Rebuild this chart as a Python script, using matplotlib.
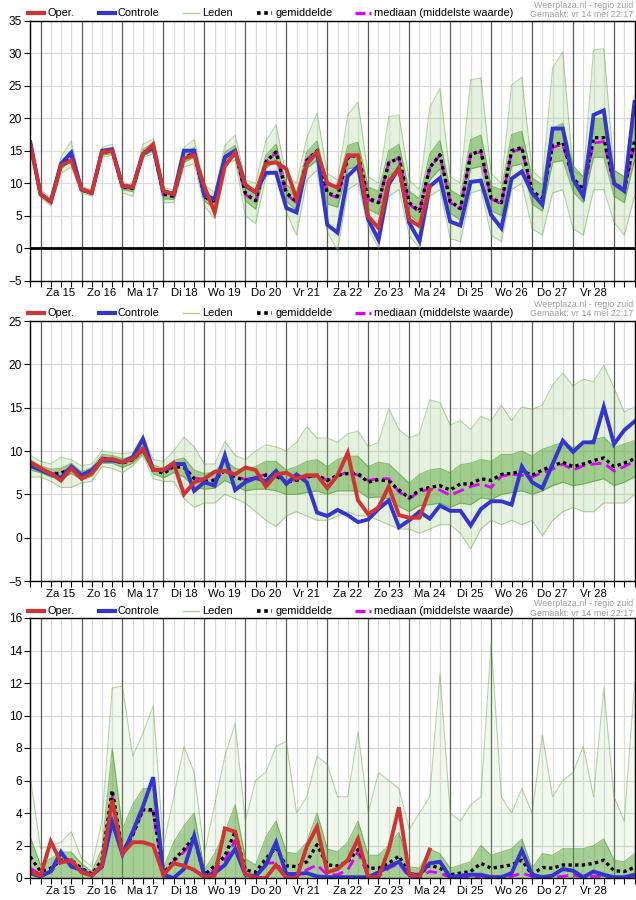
import numpy as np
import matplotlib
matplotlib.use("Agg")
import matplotlib.pyplot as plt
from matplotlib.lines import Line2D

plt.rcParams['font.family'] = ['Liberation Sans', 'DejaVu Sans']

# time axis: every 6 hours, from vr 14 18:00 (hour -6) to za 29 12:00
hours = np.arange(-6, 349, 6)
day_labels = ['Za 15', 'Zo 16', 'Ma 17', 'Di 18', 'Wo 19', 'Do 20', 'Vr 21',
              'Za 22', 'Zo 23', 'Ma 24', 'Di 25', 'Wo 26', 'Do 27', 'Vr 28']

# ---- panel 1 (temperatuur) ----
oper1 = [16.0, 8.3, 7.1, 12.7, 13.5, 9.1, 8.5, 14.8, 15.0, 9.6, 9.4, 14.4, 16.0, 8.8, 8.3,
         13.8, 14.3, 9.5, 5.5, 12.6, 14.7, 9.8, 8.6, 13.0, 13.2, 12.2, 7.6, 13.0, 14.8, 10.0,
         9.3, 14.3, 14.3, 4.9, 3.1, 10.3, 12.3, 4.4, 3.4, 9.5]
ctrl1 = [16.3, 8.3, 7.2, 13.0, 14.7, 9.0, 8.5, 15.0, 15.2, 9.6, 9.4, 14.5, 15.5, 8.8, 8.3,
         15.0, 15.0, 8.1, 7.6, 14.0, 15.0, 9.6, 8.6, 11.6, 11.6, 6.2, 5.5, 13.0, 14.8, 3.6,
         2.4, 11.1, 12.6, 4.4, 1.3, 9.8, 12.4, 3.9, 1.1, 9.5, 10.8, 4.1, 3.5, 10.2, 10.4,
         5.1, 3.1, 10.7, 11.8, 8.5, 6.7, 18.4, 18.4, 10.6, 8.0, 20.5, 21.2, 10.0, 8.8, 22.5]
mean1 = [16.0, 8.3, 7.2, 12.8, 14.3, 9.0, 8.5, 14.7, 15.0, 9.4, 9.2, 14.6, 15.6, 8.3, 8.0,
         13.8, 14.7, 8.0, 6.8, 14.0, 15.0, 8.5, 7.3, 13.3, 14.8, 8.5, 7.2, 13.5, 15.0, 8.5,
         8.0, 13.9, 14.4, 7.7, 7.0, 13.1, 13.9, 7.0, 5.7, 12.4, 14.4, 7.2, 6.1, 14.4, 15.0,
         7.7, 7.0, 15.0, 15.5, 8.8, 7.7, 15.8, 16.3, 10.8, 9.0, 17.0, 17.0, 10.0, 9.0, 16.5]
med1 = [16.0, 8.3, 7.2, 12.8, 14.3, 9.0, 8.5, 14.7, 15.0, 9.4, 9.2, 14.6, 15.6, 8.2, 7.9,
        13.8, 14.8, 8.0, 6.7, 14.1, 15.0, 8.3, 7.1, 13.3, 14.7, 8.3, 7.0, 13.6, 15.0, 8.3,
        7.8, 14.0, 14.3, 7.5, 6.8, 13.2, 13.9, 6.8, 5.5, 12.3, 14.3, 7.0, 6.0, 14.5, 14.8,
        7.6, 6.8, 14.8, 15.3, 8.5, 7.5, 15.5, 16.0, 10.5, 8.8, 16.2, 16.4, 9.8, 8.7, 16.0]
lo1 = [15.5, 7.8, 6.5, 11.5, 12.5, 8.5, 8.0, 14.0, 14.3, 8.5, 8.0, 14.0, 14.5, 7.0, 7.0,
       12.5, 13.0, 6.5, 4.5, 13.0, 13.5, 5.0, 3.8, 11.0, 12.0, 5.5, 2.0, 10.5, 12.0, 2.5,
       -0.4, 9.0, 10.0, 3.0, 0.0, 8.0, 9.0, 2.0, 0.0, 8.0, 9.0, 1.5, 1.0, 8.5, 9.0,
       2.0, 1.0, 9.0, 10.0, 3.0, 2.0, 8.5, 9.0, 3.0, 2.0, 9.0, 9.0, 4.0, 2.0, 8.0]
hi1 = [16.5, 9.0, 7.8, 14.0, 16.5, 9.5, 9.0, 15.5, 16.0, 10.0, 9.8, 16.0, 16.8, 9.3, 9.0,
       15.5, 16.7, 9.8, 8.5, 15.8, 17.4, 10.5, 10.0, 16.5, 19.0, 11.0, 10.0, 17.0, 20.8, 11.5,
       10.5, 20.5, 22.5, 11.0, 10.0, 20.2, 20.5, 10.5, 9.0, 21.6, 24.6, 11.0, 10.0, 25.9, 26.2,
       11.5, 10.0, 25.1, 26.3, 12.0, 10.5, 27.7, 30.2, 12.0, 11.0, 30.5, 30.7, 12.0, 11.0, 23.5]
clo1 = [15.8, 8.0, 6.9, 12.2, 13.5, 8.8, 8.2, 14.3, 14.6, 9.0, 8.7, 14.2, 15.0, 7.6, 7.5,
        13.2, 14.0, 7.3, 6.0, 13.5, 14.2, 7.3, 6.0, 12.3, 13.5, 7.2, 5.8, 12.3, 13.5, 6.8,
        6.3, 12.2, 12.5, 6.0, 5.2, 11.2, 12.0, 5.2, 3.8, 10.5, 12.2, 5.4, 4.3, 12.2, 12.6,
        5.8, 5.0, 12.6, 13.0, 6.8, 5.7, 13.2, 13.5, 8.7, 7.0, 14.0, 14.0, 8.0, 7.0, 13.5]
chi1 = [16.3, 8.7, 7.5, 13.3, 15.0, 9.3, 8.8, 15.1, 15.5, 9.8, 9.5, 15.2, 16.2, 8.9, 8.6,
        14.6, 15.5, 8.8, 7.6, 14.8, 15.8, 9.5, 8.5, 14.3, 16.0, 9.8, 8.6, 14.8, 16.5, 10.0,
        9.6, 15.8, 16.3, 9.4, 8.8, 15.0, 16.0, 8.8, 7.6, 14.5, 16.6, 9.0, 8.0, 16.7, 17.4,
        9.6, 9.0, 17.5, 18.0, 10.8, 9.8, 18.5, 19.2, 12.7, 11.0, 20.0, 20.0, 12.0, 11.0, 19.5]

# ---- panel 2 ----
oper2 = [8.7, 8.0, 7.4, 6.6, 8.0, 6.8, 7.4, 9.0, 9.1, 8.7, 9.1, 10.3, 7.8, 7.8, 8.6,
         5.0, 6.4, 6.8, 7.6, 7.7, 7.3, 8.1, 7.8, 5.9, 7.3, 7.5, 6.8, 7.2, 7.2, 5.7,
         7.2, 9.8, 4.3, 2.7, 3.5, 5.9, 2.6, 2.3, 2.3, 5.5]
ctrl2 = [8.3, 7.8, 7.3, 6.9, 8.2, 7.2, 7.8, 8.9, 8.9, 8.7, 9.3, 11.4, 7.8, 7.8, 8.5,
         8.5, 5.4, 6.4, 6.0, 9.5, 5.5, 6.4, 6.9, 6.5, 7.7, 6.2, 7.3, 6.4, 2.9, 2.5,
         3.2, 2.6, 1.8, 2.1, 3.3, 4.3, 1.2, 2.0, 3.0, 2.2, 3.7, 3.1, 3.1, 1.4, 3.3,
         4.2, 4.2, 3.8, 8.2, 6.4, 5.7, 8.5, 11.2, 9.9, 11.0, 11.0, 15.1, 10.8, 12.4, 13.4]
mean2 = [8.4, 7.9, 7.4, 7.4, 8.0, 7.1, 7.6, 9.1, 9.0, 8.6, 9.0, 10.2, 7.9, 7.4, 8.2,
         8.1, 6.8, 6.5, 6.6, 7.8, 7.0, 6.6, 6.9, 7.2, 7.1, 6.4, 6.6, 7.0, 7.2, 6.6,
         7.2, 7.4, 7.4, 6.4, 6.7, 6.5, 5.5, 4.6, 5.5, 5.8, 6.0, 5.5, 6.2, 6.2, 6.8,
         6.6, 7.3, 7.4, 7.7, 7.2, 7.8, 8.3, 8.7, 8.2, 8.5, 8.9, 9.2, 8.2, 8.6, 9.1]
med2 = [8.4, 7.9, 7.4, 7.5, 8.0, 7.2, 7.6, 9.2, 9.0, 8.7, 9.0, 10.1, 8.0, 7.5, 8.2,
        8.2, 6.9, 6.7, 6.7, 7.7, 7.1, 6.7, 7.0, 7.3, 7.2, 6.5, 6.7, 7.0, 7.1, 6.6,
        7.1, 7.6, 7.2, 6.6, 6.8, 6.8, 5.3, 4.5, 5.3, 5.6, 5.5, 4.9, 5.4, 5.9, 6.2,
        5.8, 7.1, 7.3, 7.2, 7.0, 7.5, 7.9, 8.5, 7.8, 8.3, 8.5, 8.6, 7.7, 8.2, 8.8]
lo2 = [7.0, 7.0, 6.5, 5.8, 5.8, 6.3, 6.5, 8.2, 8.0, 7.5, 8.3, 9.5, 6.8, 6.5, 6.5,
       4.5, 3.5, 4.0, 4.0, 5.0, 4.5, 4.0, 3.0, 2.0, 1.3, 2.5, 3.0, 2.5, 2.0, 2.0,
       2.5, 3.0, 2.5, 2.5, 2.0, 1.5, 1.0, 1.0, 0.5, 1.0, 1.5, 1.5, 0.5, -1.3, 1.0,
       2.0, 1.5, 2.0, 1.5, 2.0, 0.2, 2.0, 3.0, 3.5, 3.0, 3.0, 4.0, 4.0, 4.0, 5.0]
hi2 = [9.5, 8.8, 8.5, 9.3, 9.0, 8.3, 8.5, 10.0, 9.8, 9.7, 9.8, 11.8, 9.0, 8.8, 10.0,
       11.6, 10.5, 8.5, 8.5, 11.1, 9.5, 9.0, 10.0, 10.7, 10.5, 10.0, 11.0, 12.8, 11.5, 11.5,
       11.0, 12.0, 12.3, 10.5, 11.0, 14.9, 12.5, 11.5, 12.0, 15.9, 15.6, 13.0, 13.5, 12.5, 14.0,
       13.5, 15.3, 13.5, 15.1, 14.8, 15.3, 17.6, 19.0, 17.5, 18.3, 18.0, 19.9, 17.3, 14.5, 15.1]
clo2 = [7.8, 7.5, 7.0, 6.8, 7.4, 6.7, 7.1, 8.6, 8.6, 8.1, 8.6, 9.7, 7.4, 6.9, 7.5,
        7.0, 5.8, 5.6, 5.7, 6.6, 6.0, 5.4, 5.6, 5.6, 5.4, 5.0, 5.0, 5.2, 5.4, 5.0,
        5.4, 5.4, 5.4, 4.6, 4.7, 4.5, 3.6, 3.0, 3.7, 3.8, 4.0, 3.5, 4.0, 3.8, 4.6,
        4.4, 5.0, 5.2, 5.4, 5.0, 5.4, 6.0, 6.4, 6.0, 6.2, 6.5, 6.8, 6.0, 6.4, 7.0]
chi2 = [9.0, 8.3, 7.9, 8.0, 8.6, 7.6, 8.1, 9.6, 9.5, 9.1, 9.4, 10.7, 8.4, 8.0, 8.9,
        9.2, 7.8, 7.4, 7.6, 9.0, 8.0, 7.8, 8.2, 8.8, 8.8, 7.8, 8.2, 8.8, 9.0, 8.2,
        9.0, 9.4, 9.4, 8.2, 8.7, 8.5, 7.4, 6.3, 7.3, 7.8, 8.0, 7.5, 8.4, 8.6, 9.0,
        8.8, 9.6, 9.6, 10.0, 9.4, 10.2, 10.6, 11.0, 10.4, 10.8, 11.3, 11.6, 10.4, 10.8, 11.2]

# ---- panel 3 (neerslag) ----
oper3 = [0.4, 0.15, 2.25, 0.95, 1.1, 0.35, 0.15, 0.8, 4.8, 1.5, 2.2, 2.2, 2.0, 0.2, 0.9,
         0.75, 0.5, 0.05, 0.15, 3.05, 2.85, 0.25, 0.0, 0.0, 0.8, 0.0, 0.0, 1.95, 3.15, 0.35,
         0.55, 1.1, 2.4, 0.05, 0.05, 1.75, 4.35, 0.25, 0.05, 1.75]
ctrl3 = [0.3, 0.1, 0.4, 1.6, 0.7, 0.5, 0.15, 0.7, 3.45, 1.45, 2.85, 4.4, 6.2, 0.2, 0.0,
         0.55, 2.6, 0.1, 0.3, 0.8, 1.8, 0.2, 0.1, 0.8, 2.2, 0.25, 0.25, 0.3, 0.1, 0.05,
         0.05, 0.05, 0.05, 0.05, 0.35, 0.7, 1.0, 0.2, 0.2, 0.9, 1.0, 0.05, 0.15, 0.2, 0.2,
         0.05, 0.05, 0.3, 1.7, 0.2, 0.05, 0.15, 0.55, 0.45, 0.05, 0.4, 0.2, 0.05, 0.05, 0.2]
mean3 = [1.3, 0.4, 0.6, 1.1, 1.1, 0.6, 0.25, 1.1, 5.4, 1.6, 2.65, 4.2, 4.2, 0.25, 1.1,
         1.75, 2.55, 0.2, 0.75, 1.35, 2.85, 0.5, 0.35, 1.2, 1.85, 0.75, 0.7, 1.0, 2.05, 0.8,
         0.75, 1.0, 1.75, 0.6, 0.6, 0.9, 1.35, 0.25, 0.2, 0.8, 0.6, 0.2, 0.3, 0.4, 0.9,
         0.6, 0.7, 0.8, 1.1, 0.2, 0.65, 0.6, 0.8, 0.8, 0.8, 0.9, 1.1, 0.45, 0.4, 0.65]
med3 = [0.6, 0.2, 0.4, 1.0, 1.0, 0.5, 0.15, 0.9, 5.0, 1.5, 2.6, 4.2, 4.1, 0.1, 1.0,
        1.6, 2.4, 0.1, 0.5, 1.1, 2.3, 0.2, 0.1, 0.9, 0.95, 0.1, 0.1, 0.5, 0.8, 0.2,
        0.2, 0.5, 1.6, 0.1, 0.1, 0.6, 0.9, 0.05, 0.05, 0.4, 0.3, 0.05, 0.05, 0.05, 0.1,
        0.1, 0.05, 0.1, 0.3, 0.1, 0.05, 0.05, 0.1, 0.2, 0.05, 0.1, 0.15, 0.05, 0.05, 0.1]
hi3 = [6.2, 1.8, 2.0, 2.2, 2.85, 1.2, 0.7, 3.5, 11.7, 11.8, 7.5, 8.9, 10.6, 2.0, 5.0,
       8.1, 6.5, 1.5, 4.5, 7.5, 9.5, 3.5, 6.0, 6.5, 8.1, 8.4, 4.0, 5.0, 7.5, 7.0,
       5.0, 5.0, 9.0, 4.0, 6.5, 6.0, 5.5, 3.0, 4.0, 5.0, 12.6, 4.0, 3.5, 4.5, 5.0,
       14.5, 5.0, 4.0, 5.5, 4.0, 8.8, 5.0, 6.0, 6.5, 8.1, 5.0, 11.7, 5.0, 3.5, 12.0]
lo3 = [0.0] * 60
clo3 = [0.0] * 60
chi3 = [2.5, 0.8, 1.2, 1.6, 1.6, 0.9, 0.4, 1.8, 8.0, 3.0, 4.5, 5.5, 5.5, 0.6, 2.2,
        3.2, 4.0, 0.5, 1.5, 2.8, 4.5, 1.2, 0.8, 2.5, 3.5, 1.6, 1.5, 2.2, 4.0, 1.8,
        1.6, 2.2, 3.5, 1.4, 1.4, 2.0, 2.8, 0.7, 0.6, 1.8, 1.5, 0.6, 0.8, 1.0, 2.0,
        1.4, 1.6, 1.8, 2.4, 0.6, 1.5, 1.4, 1.8, 1.8, 1.8, 2.0, 2.4, 1.1, 1.0, 1.5]

RED = '#d13333'
BLUE = '#3434d0'
GREEN = '#4c9e2a'
GREEN_LT = '#a9d496'
MAGENTA = '#dd00ff'

W, H = 636, 900
fig = plt.figure(figsize=(W / 100, H / 100), dpi=100)


def fx(x):
    return x / W


def fy(y):
    return 1 - y / H


def legend_row(y, y_src):
    items = [
        (28, 44, dict(color=RED, lw=3.0), 'Oper.', 47),
        (99, 115, dict(color=BLUE, lw=3.0), 'Controle', 118),
        (183, 199, dict(color=GREEN_LT, lw=1.0), 'Leden', 202),
        (257, 272, dict(color='black', lw=2.6, ls=(0, (1, 1))), 'gemiddelde', 276),
        (355, 371, dict(color=MAGENTA, lw=2.4, ls=(0, (3, 1.2, 0.6, 10))), 'mediaan (middelste waarde)', 374),
    ]
    for x0, x1, st, txt, tx in items:
        fig.add_artist(Line2D([fx(x0), fx(x1)], [fy(y), fy(y)], transform=fig.transFigure, **st))
        fig.text(fx(tx), fy(y), txt, fontsize=7.9, va='center', ha='left')
    fig.text(fx(633), fy(y_src), 'Weerplaza.nl - regio zuid', fontsize=6.4, color='#a0a0a0',
             ha='right', va='center')
    fig.text(fx(633), fy(y_src + 9.5), 'Gemaakt: vr 14 mei 22:17', fontsize=6.4, color='#a0a0a0',
             ha='right', va='center')


def make_panel(top, bottom, ylim, ystep, zero_line, ens, oper, ctrl, mean, med, outer_alpha):
    ax = fig.add_axes([fx(30.3), fy(bottom), fx(634.5) - fx(30.3), (bottom - top) / H])
    ax.set_xlim(-6, 348)
    ax.set_ylim(*ylim)
    ax.set_yticks(np.arange(ylim[0], ylim[1] + 0.1, ystep))
    for yv in np.arange(ylim[0], ylim[1] + 0.1, ystep):
        ax.axhline(yv, color='#dcdcdc', lw=0.9, zorder=0)
    for h in range(-6, 349, 6):
        if h % 24 == 0:
            ax.axvline(h, color='#5a5a5a', lw=0.9, zorder=1)
        else:
            ax.axvline(h, color='#dcdcdc', lw=0.9, zorder=0)
    if zero_line:
        ax.axhline(0, color='black', lw=2.0, zorder=1)

    lo, hi, clo, chi = ens
    ax.fill_between(hours, lo, hi, color=GREEN_LT, alpha=outer_alpha, lw=0, zorder=2)
    ax.fill_between(hours, clo, chi, color=GREEN, alpha=0.45, lw=0, zorder=2)
    for s in (lo, hi):
        ax.plot(hours, s, color=GREEN, lw=0.8, alpha=0.4, zorder=3)
    for s in (clo, chi):
        ax.plot(hours, s, color=GREEN, lw=0.8, alpha=0.6, zorder=3)

    ax.plot(hours, med, color=MAGENTA, lw=2.0, ls=(0, (4, 2)), zorder=4)
    ax.plot(hours, mean, color='black', lw=2.4, ls=(0, (1, 1)), zorder=5)
    ax.plot(hours, ctrl, color=BLUE, lw=2.8, zorder=6, solid_joinstyle='miter')
    ax.plot(hours[:len(oper)], oper, color=RED, lw=2.8, zorder=7, solid_joinstyle='miter')

    ticks = list(range(-6, 349, 6))
    labels = []
    for h in ticks:
        if h % 24 == 12 and 0 <= h // 24 < len(day_labels):
            labels.append(day_labels[h // 24])
        else:
            labels.append('')
    ax.set_xticks(ticks)
    ax.set_xticklabels(labels)
    ax.tick_params(axis='x', length=4, width=0.8, pad=1.5, labelsize=8.2)
    ax.tick_params(axis='y', length=4, width=0.8, pad=2, labelsize=8.6)
    for sp in ax.spines.values():
        sp.set_color('black')
        sp.set_linewidth(1.0)
        sp.set_zorder(8)
    return ax


make_panel(20.7, 280.7, (-5, 35), 5, True, (lo1, hi1, clo1, chi1),
           oper1, ctrl1, mean1, med1, 0.3)
legend_row(13, 5)

make_panel(321, 581, (-5, 25), 5, False, (lo2, hi2, clo2, chi2),
           oper2, ctrl2, mean2, med2, 0.3)
legend_row(313, 304.5)

make_panel(618, 878, (0, 16), 2, False, (lo3, hi3, clo3, chi3),
           oper3, ctrl3, mean3, med3, 0.16)
legend_row(611, 604)

fig.savefig('out.png', dpi=100)
